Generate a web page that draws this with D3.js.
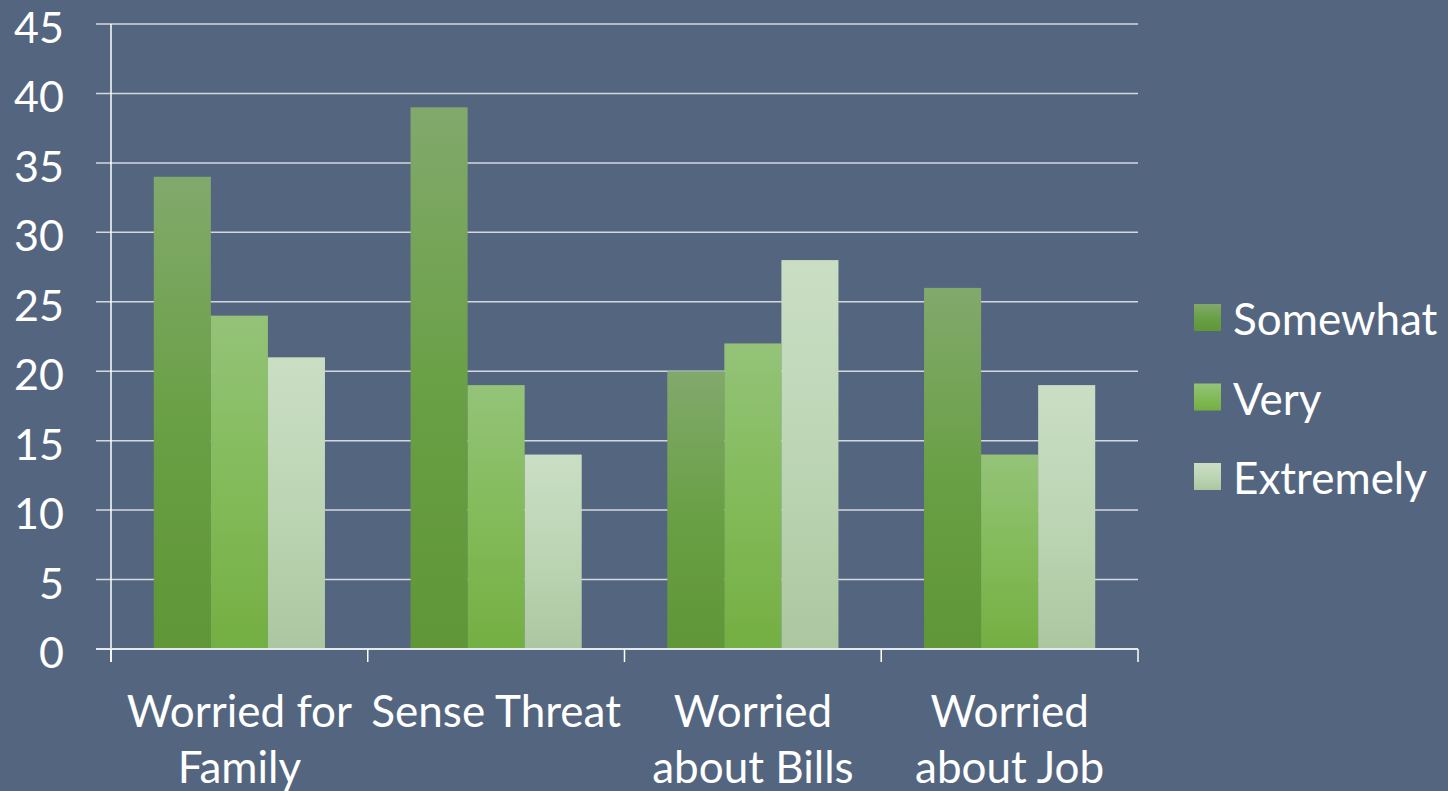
<!DOCTYPE html>
<html>
<head>
<meta charset="utf-8">
<script src="https://cdn.jsdelivr.net/npm/d3@7"></script>
<style>
  html, body { margin: 0; padding: 0; background: #54667f; }
  svg { display: block; }
</style>
</head>
<body>
<svg id="chart" width="1448" height="791"></svg>
<script>
const categories = [["Worried for", "Family"], ["Sense Threat"], ["Worried", "about Bills"], ["Worried", "about Job"]];
const seriesNames = ["Somewhat", "Very", "Extremely"];
const somewhat = [34, 39, 20, 26];
const very = [24, 19, 22, 14];
const extremely = [21, 14, 28, 19];
const yTicks = [0, 5, 10, 15, 20, 25, 30, 35, 40, 45];

const seriesValues = [somewhat, very, extremely];
// top, mid, bottom gradient stops per series
const gradStops = [
  ["#82a96c", "#6aa046", "#5f9636"],
  ["#94c378", "#83bb5a", "#74af42"],
  ["#cadec4", "#bdd5b4", "#abc7a0"]
];

const svg = d3.select("#chart");
const W = 1448, H = 791;
const m = { left: 111, right: 1138, top: 24, bottom: 649 };
const FONT = "Lato, 'Open Sans', sans-serif";

svg.append("rect").attr("width", W).attr("height", H).attr("fill", "#54667f");

const defs = svg.append("defs");
gradStops.forEach((s, i) => {
  const g = defs.append("linearGradient").attr("id", "g" + i)
    .attr("x1", 0).attr("y1", 0).attr("x2", 0).attr("y2", 1);
  g.append("stop").attr("offset", "0%").attr("stop-color", s[0]);
  g.append("stop").attr("offset", "50%").attr("stop-color", s[1]);
  g.append("stop").attr("offset", "100%").attr("stop-color", s[2]);
});

const y = d3.scaleLinear().domain([0, 45]).range([m.bottom, m.top]);
const x0 = d3.scaleBand().domain(d3.range(categories.length))
  .range([m.left, m.right]).paddingInner(1 / 3).paddingOuter(1 / 6);
const x1 = d3.scaleBand().domain(d3.range(seriesNames.length)).range([0, x0.bandwidth()]);

// gridlines
svg.append("g").selectAll("line").data(yTicks.slice(1)).join("line")
  .attr("x1", m.left - 15).attr("x2", m.right)
  .attr("y1", d => y(d)).attr("y2", d => y(d))
  .attr("stroke", "#d5d9df").attr("stroke-width", 1.5);

// y labels
svg.append("g").selectAll("text").data(yTicks).join("text")
  .attr("x", 64).attr("y", d => y(d) + 19)
  .attr("text-anchor", "end")
  .attr("fill", "#ffffff").attr("font-family", FONT).attr("font-size", 43)
  .text(d => d);

// bars
const groups = svg.append("g").selectAll("g").data(categories).join("g")
  .attr("transform", (d, i) => `translate(${x0(i)},0)`);
groups.selectAll("rect").data((d, i) => seriesValues.map((s, j) => ({ j, v: s[i] }))).join("rect")
  .attr("x", d => x1(d.j)).attr("width", x1.bandwidth())
  .attr("y", d => y(d.v)).attr("height", d => y(0) - y(d.v))
  .attr("fill", d => `url(#g${d.j})`);

// axes lines
svg.append("line").attr("x1", m.left).attr("x2", m.left).attr("y1", m.top).attr("y2", m.bottom + 13)
  .attr("stroke", "#ffffff").attr("stroke-width", 1.5);
svg.append("line").attr("x1", m.left - 15).attr("x2", m.right).attr("y1", m.bottom).attr("y2", m.bottom)
  .attr("stroke", "#e4e7eb").attr("stroke-width", 2);
const catTicks = d3.range(categories.length + 1).map(i => m.left + i * x0.step());
svg.append("g").selectAll("line").data(catTicks).join("line")
  .attr("x1", d => d).attr("x2", d => d).attr("y1", m.bottom).attr("y2", m.bottom + 13)
  .attr("stroke", "#ffffff").attr("stroke-width", 1.5);

// category labels
const lab = svg.append("g").selectAll("text").data(categories).join("text")
  .attr("text-anchor", "middle").attr("fill", "#ffffff")
  .attr("font-family", FONT).attr("font-size", 44)
  .attr("transform", (d, i) => `translate(${x0(i) + x0.bandwidth() / 2},727)`);
lab.selectAll("tspan").data(d => d).join("tspan")
  .attr("x", 0).attr("y", (d, i) => i * 56).text(d => d);

// legend
const leg = svg.append("g").selectAll("g").data(seriesNames).join("g")
  .attr("transform", (d, i) => `translate(1194,${304 + i * 79.5})`);
leg.append("rect").attr("width", 27).attr("height", 27).attr("fill", (d, i) => `url(#g${i})`);
leg.append("text").attr("x", 39).attr("y", 31)
  .attr("fill", "#ffffff").attr("font-family", FONT).attr("font-size", 44)
  .text(d => d);
</script>
</body>
</html>
